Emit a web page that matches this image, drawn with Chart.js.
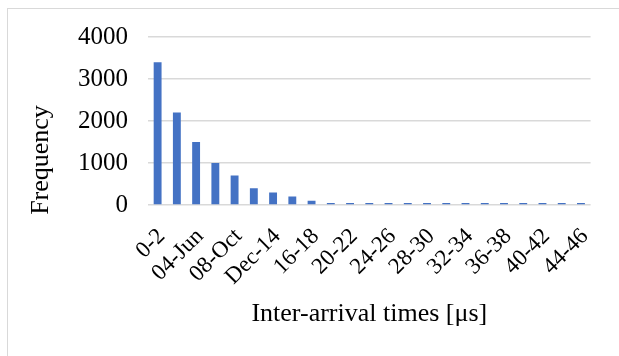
<!DOCTYPE html>
<html>
<head>
<meta charset="utf-8">
<script src="https://cdn.jsdelivr.net/npm/chart.js@4/dist/chart.umd.min.js"></script>
<style>
  html, body { margin: 0; padding: 0; background: #ffffff; }
  #wrap { position: relative; width: 619px; height: 356px; }
</style>
</head>
<body>
<div id="wrap"><canvas id="c" width="619" height="356"></canvas></div>
<script>
// Histogram bins of inter-arrival times (2 µs wide), labels as they appear after spreadsheet auto-formatting
const binLabels = [
  '0-2', '02-Apr', '04-Jun', '06-Aug', '08-Oct', 'Oct-12', 'Dec-14', '14-16',
  '16-18', '18-20', '20-22', '22-24', '24-26', '26-28', '28-30', '30-32',
  '32-34', '34-36', '36-38', '38-40', '40-42', '42-44', '44-46'
];
const frequencies = [
  3400, 2200, 1500, 1000, 700, 400, 300, 200,
  100, 50, 50, 50, 50, 50, 50, 50,
  50, 50, 50, 50, 50, 50, 50
];
const yTicks = [0, 1000, 2000, 3000, 4000];
const yTitle = 'Frequency';

const serif = "'Liberation Serif', 'Times New Roman', serif";

// thin frame around the chart object, plus the vertical axis title
const framePlugin = {
  id: 'frame',
  beforeDraw(chart) {
    const ctx = chart.ctx;
    ctx.save();
    ctx.fillStyle = '#ffffff';
    ctx.fillRect(0, 0, chart.width, chart.height);
    ctx.strokeStyle = '#d9d9d9';
    ctx.lineWidth = 1;
    ctx.strokeRect(7.5, 8.5, 700, 700);
    ctx.restore();
  },
  afterDraw(chart) {
    const ctx = chart.ctx;
    ctx.save();
    ctx.translate(41, 160);
    ctx.rotate(-Math.PI / 2);
    ctx.fillStyle = '#000000';
    ctx.font = '26px ' + serif;
    ctx.textAlign = 'center';
    ctx.textBaseline = 'middle';
    ctx.fillText(yTitle, 0, 0);
    ctx.restore();
  }
};

new Chart(document.getElementById('c'), {
  type: 'bar',
  data: {
    labels: binLabels,
    datasets: [{
      data: frequencies,
      backgroundColor: '#4472C4',
      borderWidth: 0,
      categoryPercentage: 1.0,
      barPercentage: 0.41
    }]
  },
  options: {
    responsive: false,
    animation: false,
    devicePixelRatio: 1,
    layout: { padding: { top: 37, right: 24, bottom: 20, left: 0 } },
    plugins: { legend: { display: false }, tooltip: { enabled: false } },
    scales: {
      x: {
        grid: { display: false, drawTicks: false },
        border: { display: false },
        afterFit(scale) { scale.height = 131; },
        ticks: {
          autoSkip: false,
          maxRotation: 45,
          minRotation: 45,
          padding: 18,
          labelOffset: 4,
          color: '#000000',
          font: { family: serif, size: 23 },
          callback(value, index) { return index % 2 === 0 ? binLabels[index] : ''; }
        },
        title: {
          display: true,
          text: 'Inter-arrival times [μs]',
          color: '#000000',
          font: { family: serif, size: 26 },
          padding: { top: 0, bottom: 6 }
        }
      },
      y: {
        min: 0,
        max: 4000,
        afterFit(scale) { scale.width = 148; },
        afterBuildTicks(scale) { scale.ticks = yTicks.map(v => ({ value: v })); },
        grid: { color: '#d9d9d9', lineWidth: 1.5, drawTicks: false },
        border: { display: false },
        ticks: {
          padding: 20,
          color: '#000000',
          font: { family: serif, size: 25 },
          callback(value) { return String(value); }
        }
      }
    }
  },
  plugins: [framePlugin]
});
</script>
</body>
</html>
